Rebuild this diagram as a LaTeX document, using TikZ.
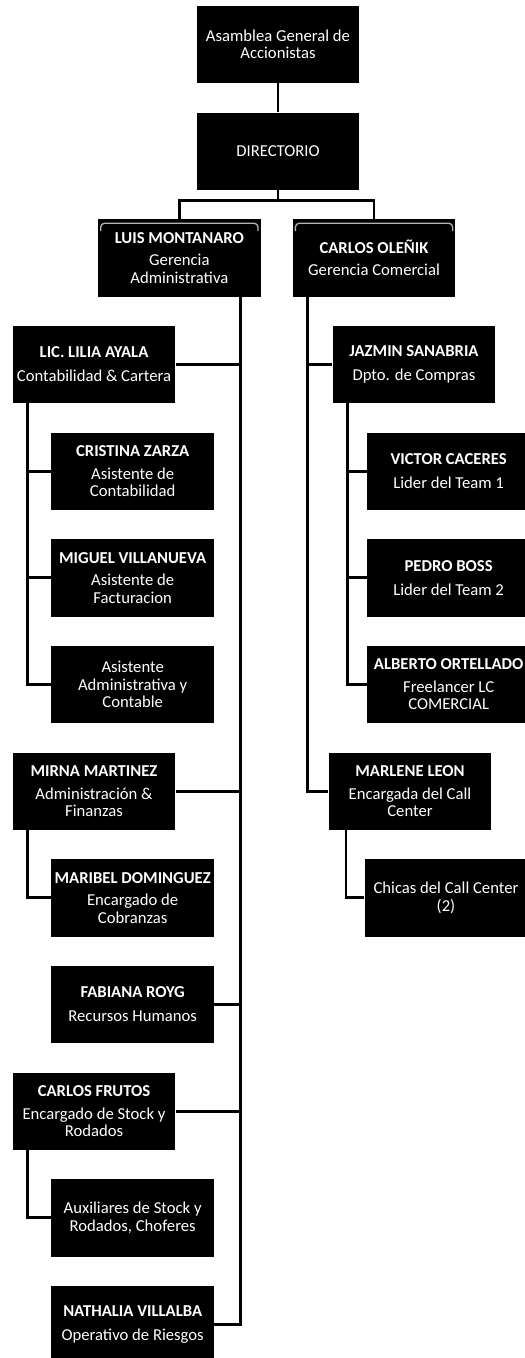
\documentclass[tikz,border=0pt]{standalone}
\usepackage{fontspec}
\setmainfont{Carlito}

\tikzstyle{box} = [rectangle, fill=black, text=white, minimum width=122pt, minimum height=58pt, inner sep=1pt, align=center, font=\fontsize{12.5}{13}\selectfont]
\tikzstyle{gerbox} = [box, path picture={\draw[gray!60, line width=1pt, rounded corners=3pt] ([shift={(2pt,-9pt)}]path picture bounding box.north west) -- ([shift={(2pt,-3pt)}]path picture bounding box.north west) -- ([shift={(-2pt,-3pt)}]path picture bounding box.north east) -- ([shift={(-2pt,-9pt)}]path picture bounding box.north east);}]
\tikzstyle{line} = [line width=2.2pt, black]

\begin{document}
\begin{tikzpicture}[node distance=80pt]
\useasboundingbox (0,33.4pt) rectangle (393pt,-985.1pt);

%% Top
\node (asam) [box] at (208.5pt,0) {Asamblea General de\\Accionistas};
\node (dir) [box, below of=asam] {DIRECTORIO};
\node (luis) [gerbox, below of=dir, xshift=-74pt] {\textbf{LUIS MONTANARO}\\[4pt]Gerencia\\Administrativa};
\node (carlos) [gerbox, below of=dir, xshift=72pt] {\textbf{CARLOS OLEÑIK}\\[4pt]Gerencia Comercial};

%% Gerencia Administrativa
\node (lilia) [box, below of=luis, xshift=-64pt] {\textbf{LIC. LILIA AYALA}\\[5pt]Contabilidad \& Cartera};
\node (cris) [box, below of=lilia, xshift=29pt] {\textbf{CRISTINA ZARZA}\\[4pt]Asistente de\\Contabilidad};
\node (miguel) [box, below of=cris] {\textbf{MIGUEL VILLANUEVA}\\[4pt]Asistente de\\Facturacion};
\node (asist) [box, below of=miguel] {Asistente\\Administrativa y\\Contable};
\node (mirna) [box, below of=asist, xshift=-29pt] {\textbf{MIRNA MARTINEZ}\\[4pt]Administración \&\\Finanzas};
\node (maribel) [box, below of=mirna, xshift=29pt] {\textbf{MARIBEL DOMINGUEZ}\\[4pt]Encargado de\\Cobranzas};
\node (fabiana) [box, below of=maribel] {\textbf{FABIANA ROYG}\\[5pt]Recursos Humanos};
\node (frutos) [box, below of=fabiana, xshift=-29pt] {\textbf{CARLOS FRUTOS}\\[4pt]Encargado de Stock y\\Rodados};
\node (aux) [box, below of=frutos, xshift=29pt] {Auxiliares de Stock y\\Rodados, Choferes};
\node (nath) [box, below of=aux] {\textbf{NATHALIA VILLALBA}\\[5pt]Operativo de Riesgos};

%% Gerencia Comercial
\node (jazmin) [box, below of=carlos, xshift=30pt] {\textbf{JAZMIN SANABRIA}\\[5pt]Dpto. de Compras};
\node (victor) [box, below of=jazmin, xshift=26pt] {\textbf{VICTOR CACERES}\\[5pt]Lider del Team 1};
\node (pedro) [box, below of=victor] {\textbf{PEDRO BOSS}\\[5pt]Lider del Team 2};
\node (alberto) [box, below of=pedro] {\textbf{ALBERTO ORTELLADO}\\[4pt]Freelancer LC\\COMERCIAL};
\node (marlene) [box, below of=alberto, xshift=-29pt] {\textbf{MARLENE LEON}\\[4pt]Encargada del Call\\Center};
\node (chicas) [box, below of=marlene, xshift=27pt] {Chicas del Call Center\\(2)};

%% Lines
\draw [line] (asam) -- (dir);
\draw [line] (dir.south) -- ++(0,-8pt) -| (luis.north);
\draw [line] (dir.south) -- ++(0,-8pt) -| (carlos.north);

\draw [line] ([xshift=46pt]luis.south) |- (lilia.east);
\draw [line] ([xshift=46pt]luis.south) |- (mirna.east);
\draw [line] ([xshift=46pt]luis.south) |- (fabiana.east);
\draw [line] ([xshift=46pt]luis.south) |- (frutos.east);
\draw [line] ([xshift=46pt]luis.south) |- (nath.east);

\draw [line] ([xshift=-50pt]lilia.south) |- (cris.west);
\draw [line] ([xshift=-50pt]lilia.south) |- (miguel.west);
\draw [line] ([xshift=-50pt]lilia.south) |- (asist.west);
\draw [line] ([xshift=-50pt]mirna.south) |- (maribel.west);
\draw [line] ([xshift=-50pt]frutos.south) |- (aux.west);

\draw [line] ([xshift=-50pt]carlos.south) |- (jazmin.west);
\draw [line] ([xshift=-50pt]carlos.south) |- (marlene.west);
\draw [line] ([xshift=-50pt]jazmin.south) |- (victor.west);
\draw [line] ([xshift=-50pt]jazmin.south) |- (pedro.west);
\draw [line] ([xshift=-50pt]jazmin.south) |- (alberto.west);
\draw [line] ([xshift=-48pt]marlene.south) |- (chicas.west);
\end{tikzpicture}
\end{document}
